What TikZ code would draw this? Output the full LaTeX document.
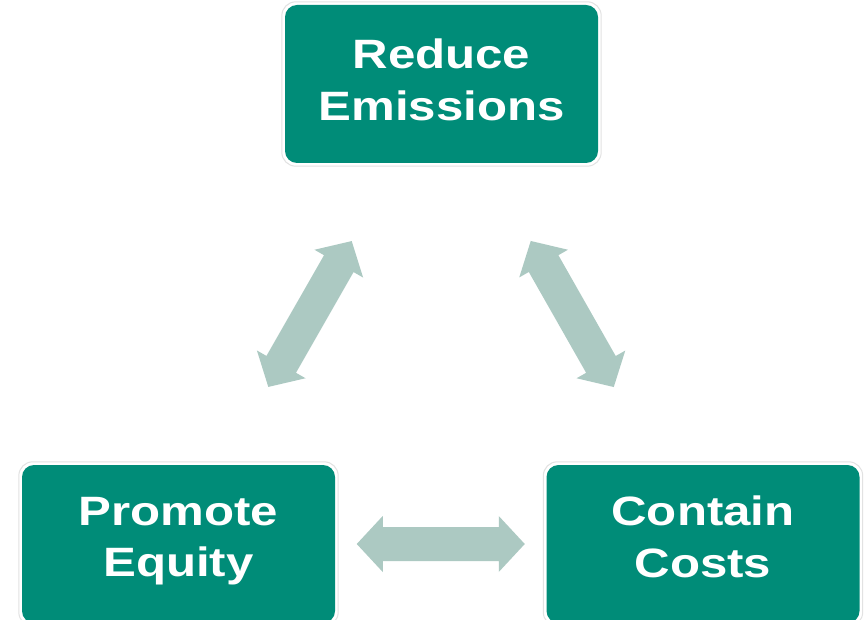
\documentclass[tikz,border=0pt]{standalone}
\usepackage{fontspec}
\newfontfamily\boxfont{Liberation Sans}[FakeStretch=1.2]
\usetikzlibrary{calc}
\definecolor{boxteal}{RGB}{0,140,120}
\definecolor{arrowc}{RGB}{172,201,194}
\definecolor{rimgray}{RGB}{226,226,226}
\tikzset{
  goalbox/.style={fill=boxteal, rounded corners=12pt, minimum width=313pt,
    minimum height=158pt, text=white, align=center, inner sep=0pt,
    text depth=8.6pt,
    font=\boxfont\bfseries\fontsize{41}{51.5}\selectfont},
  lowbox/.style={goalbox, text depth=14.6pt},
  rim/.style={draw=rimgray, line width=1pt, rounded corners=14pt},
  dblarrow/.pic={
    \fill[arrowc] (-84,0) -- (-58,-28) -- (-58,-17) -- (58,-17) -- (58,-28)
      -- (84,0) -- (58,28) -- (58,17) -- (-58,17) -- (-58,28) -- cycle;
  }
}
\begin{document}
\begin{tikzpicture}[x=1pt,y=-1pt]
\fill[white] (0,0) rectangle (866,620);
\useasboundingbox (0,0) rectangle (866,620);
\node[goalbox] (RE) at (441.5,84) {Reduce\\Emissions};
\node[lowbox] (PE) at (178.5,544) {Promote\\Equity};
\node[lowbox] (CC) at (703,544) {Contain\\Costs};
\foreach \n in {RE,PE,CC}{
  \draw[rim] ([shift={(-3,-3)}]\n.north west) rectangle ([shift={(3,3)}]\n.south east);
}
\path let \p1=($(PE)-(RE)$), \n1={atan2(\y1,\x1)} in
  pic[rotate=\n1] at ($(RE)!0.5!(PE)$) {dblarrow};
\path let \p1=($(CC)-(RE)$), \n1={atan2(\y1,\x1)} in
  pic[rotate=\n1] at ($(RE)!0.5!(CC)$) {dblarrow};
\path let \p1=($(CC)-(PE)$), \n1={atan2(\y1,\x1)} in
  pic[rotate=\n1] at ($(PE)!0.5!(CC)$) {dblarrow};
\end{tikzpicture}
\end{document}
